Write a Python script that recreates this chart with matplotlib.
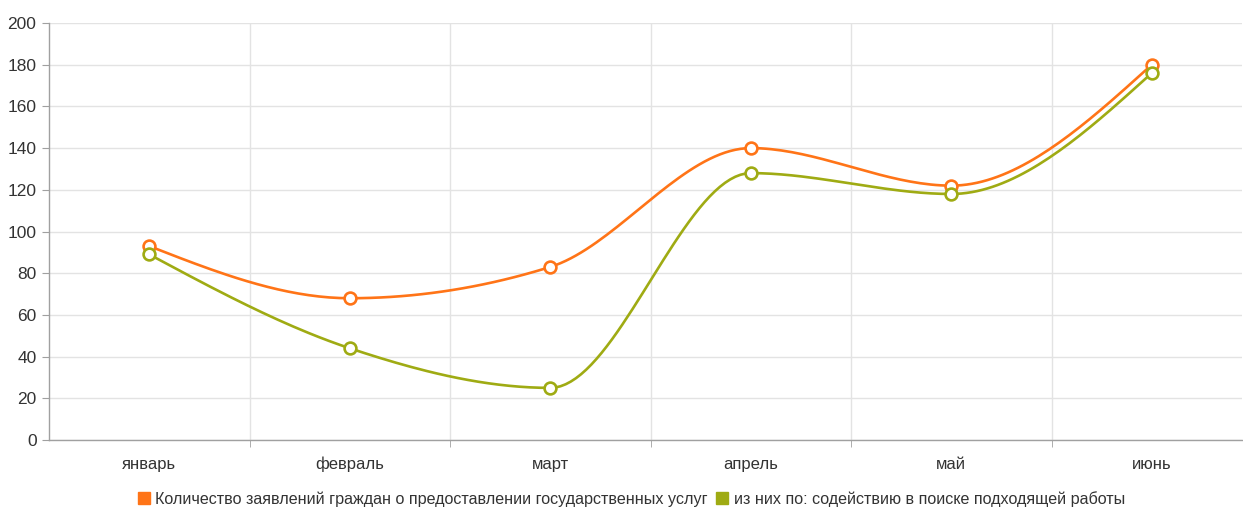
import numpy as np
import matplotlib
matplotlib.use("Agg")
import matplotlib.pyplot as plt
from matplotlib.lines import Line2D
from matplotlib import font_manager

categories = ["январь", "февраль", "март", "апрель", "май", "июнь"]
total = [93, 68, 83, 140, 122, 180]
job_search = [89, 44, 25, 128, 118, 176]
series_names = ["Количество заявлений граждан о предоставлении государственных услуг",
                "из них по: содействию в поиске подходящей работы"]
yticks = [0, 20, 40, 60, 80, 100, 120, 140, 160, 180, 200]

names = {f.name for f in font_manager.fontManager.ttflist}
fam = "Liberation Sans Narrow" if "Liberation Sans Narrow" in names else "Liberation Sans"
plt.rcParams["font.family"] = [fam, "DejaVu Sans"]


def monotone_x(x, y, n=40):
    x = np.asarray(x, float); y = np.asarray(y, float)
    h = np.diff(x); s = np.diff(y) / h
    m = np.zeros_like(y)
    for i in range(1, len(x) - 1):
        if s[i - 1] * s[i] <= 0:
            m[i] = 0
        else:
            p = (s[i - 1] * h[i] + s[i] * h[i - 1]) / (h[i - 1] + h[i])
            m[i] = (np.sign(s[i - 1]) + np.sign(s[i])) * min(abs(s[i - 1]), abs(s[i]), 0.5 * abs(p))
    m[0] = (3 * s[0] - m[1]) / 2 if len(x) > 2 else s[0]
    m[-1] = (3 * s[-1] - m[-2]) / 2 if len(x) > 2 else s[-1]
    xs, ys = [], []
    for i in range(len(x) - 1):
        t = np.linspace(0, 1, n)
        h00 = 2 * t**3 - 3 * t**2 + 1
        h10 = t**3 - 2 * t**2 + t
        h01 = -2 * t**3 + 3 * t**2
        h11 = t**3 - t**2
        xs.append(x[i] + t * h[i])
        ys.append(h00 * y[i] + h10 * h[i] * m[i] + h01 * y[i + 1] + h11 * h[i] * m[i + 1])
    return np.concatenate(xs), np.concatenate(ys)


fig = plt.figure(figsize=(12.43, 5.08), dpi=100)
ax = fig.add_axes([49 / 1243, 1 - 440 / 508, (1242 - 49) / 1243, (440 - 23) / 508])

colors = ["#ff7417", "#9fab13"]
x = np.arange(len(categories))
for vals, c in zip([total, job_search], colors):
    xs, ys = monotone_x(x, vals)
    ax.plot(xs, ys, color=c, lw=1.9, zorder=3, solid_capstyle="round")
    ax.plot(x, vals, 'o', ms=8.5, mfc="white", mec=c, mew=1.9, zorder=4)

ax.set_xlim(-0.5, 5.45)
ax.set_ylim(0, 200)
ax.set_yticks(yticks)
ax.set_yticklabels([str(v) for v in yticks])
ax.set_xticks(x)
ax.set_xticklabels(categories)
ax.set_xticks(np.arange(0.5, 5.5, 1), minor=True)

ax.grid(axis="y", color="#e3e3e3", lw=1)
ax.grid(axis="x", which="minor", color="#e3e3e3", lw=1)
ax.set_axisbelow(True)
for sp in ["top", "right"]:
    ax.spines[sp].set_visible(False)
for sp in ["left", "bottom"]:
    ax.spines[sp].set_color("#a0a0a0")
    ax.spines[sp].set_linewidth(1)

ax.tick_params(axis="y", length=5, color="#a0a0a0", labelsize=12.5, labelcolor="#333333", pad=4)
ax.tick_params(axis="x", which="major", length=0, labelsize=12, labelcolor="#333333", pad=12)
ax.tick_params(axis="x", which="minor", length=5, color="#a0a0a0")

handles = [Line2D([], [], marker="s", ls="", ms=8, color=c) for c in colors]
fig.legend(handles, series_names, loc="center", bbox_to_anchor=(632 / 1243, 1 - 499 / 508),
           ncol=2, frameon=False, fontsize=11.6, handlelength=0.6, handletextpad=0.4,
           columnspacing=0.6, labelcolor="#333333")

fig.savefig("out.png", dpi=100)
